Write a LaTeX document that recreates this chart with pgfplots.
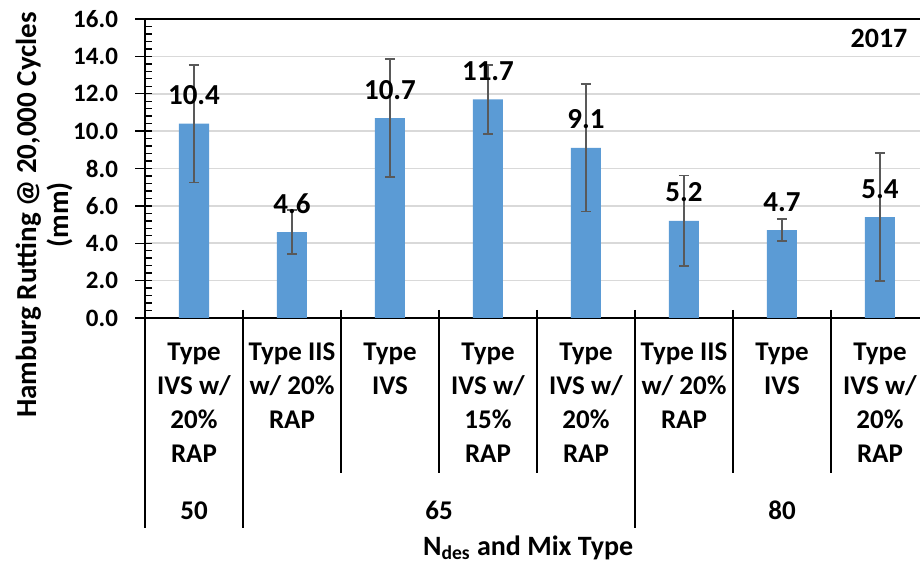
\documentclass[border=0pt]{standalone}
\usepackage{fontspec}
\setmainfont{Carlito}
\usepackage{pgfplots}
\pgfplotsset{compat=1.18}
\definecolor{barblue}{HTML}{5B9BD5}
\definecolor{errgray}{HTML}{595959}
\definecolor{gridgray}{HTML}{D9D9D9}
\begin{document}
\begin{tikzpicture}
\path[use as bounding box] (0,0) rectangle (460pt,283pt);
\begin{axis}[
  at={(72.5pt,124pt)}, anchor=south west,
  scale only axis, width=392pt, height=149.5pt,
  xmin=-0.5, xmax=7.5, ymin=0, ymax=16,
  clip=false,
  ybar, bar width=15pt,
  axis line style={black, line width=0.9pt},
  ytick={0,2,...,16}, minor y tick num=4,
  ytick pos=left,
  tick align=inside,
  major tick length=3.5pt, minor tick length=3.5pt,
  tick style={black, line width=0.7pt},
  extra y ticks={0,2,...,16},
  extra y tick labels={},
  extra y tick style={tick align=outside, major tick length=5pt, ymajorgrids=false},
  ymajorgrids, grid style={gridgray, line width=0.8pt},
  /pgf/number format/assume math mode=true,
  yticklabel style={font=\fontsize{12.5}{14}\selectfont\bfseries, xshift=-10pt, /pgf/number format/.cd, fixed, fixed zerofill, precision=1},
  xtick={0,...,7},
  x tick style={draw=none},
  xticklabels={{Type\\IVS w/\\20\%\\RAP},{Type IIS\\w/ 20\%\\RAP},{Type\\IVS},{Type\\IVS w/\\15\%\\RAP},{Type\\IVS w/\\20\%\\RAP},{Type IIS\\w/ 20\%\\RAP},{Type\\IVS},{Type\\IVS w/\\20\%\\RAP}},
  xticklabel style={align=center, font=\fontsize{13.5}{17}\selectfont\bfseries, anchor=north, yshift=-9pt},
  nodes near coords,
  nodes near coords style={font=\fontsize{14.5}{16}\selectfont\bfseries, black, anchor=base, yshift=9.5pt, /pgf/number format/.cd, fixed, fixed zerofill, precision=1},
]
\addplot[fill=barblue, draw=none,
  error bars/.cd, y dir=both, y explicit,
  error bar style={errgray, line width=0.9pt},
  error mark options={errgray, rotate=90, mark size=2.5pt, line width=0.9pt}]
  table[x=x, y=y, y error=e] {
x y e
0 10.4 3.15
1 4.6 1.18
2 10.7 3.15
3 11.7 1.85
4 9.1 3.40
5 5.2 2.43
6 4.7 0.60
7 5.4 3.43
};
% top frame
\draw[black, line width=0.9pt] (rel axis cs:0,1) -- (rel axis cs:1,1);
% category separators
\draw[black, line width=0.9pt] (axis cs:-0.5,0) -- ++(0pt,-105pt);
\draw[black, line width=0.9pt] ([yshift=4pt]axis cs:0.5,0) -- ++(0pt,-109pt);
\draw[black, line width=0.9pt] ([yshift=4pt]axis cs:4.5,0) -- ++(0pt,-109pt);
\draw[black, line width=0.9pt] ([yshift=4pt]axis cs:7.5,0) -- ++(0pt,-109pt);
\draw[black, line width=0.9pt] ([yshift=4pt]axis cs:1.5,0) -- ++(0pt,-81.5pt);
\draw[black, line width=0.9pt] ([yshift=4pt]axis cs:2.5,0) -- ++(0pt,-81.5pt);
\draw[black, line width=0.9pt] ([yshift=4pt]axis cs:3.5,0) -- ++(0pt,-81.5pt);
\draw[black, line width=0.9pt] ([yshift=4pt]axis cs:5.5,0) -- ++(0pt,-81.5pt);
\draw[black, line width=0.9pt] ([yshift=4pt]axis cs:6.5,0) -- ++(0pt,-81.5pt);
% second level labels
\node[font=\fontsize{13.5}{15}\selectfont\bfseries, anchor=base] at ([yshift=-101pt]axis cs:0,0) {50};
\node[font=\fontsize{13.5}{15}\selectfont\bfseries, anchor=base] at ([yshift=-101pt]axis cs:2.5,0) {65};
\node[font=\fontsize{13.5}{15}\selectfont\bfseries, anchor=base] at ([yshift=-101pt]axis cs:6,0) {80};
% axis titles
\node[font=\fontsize{14}{16}\selectfont\bfseries] at ([yshift=-115pt]axis cs:3.41,0) {N\textsubscript{des} and Mix Type};
\node[rotate=90, align=center, font=\fontsize{14.5}{16}\selectfont\bfseries] at ([xshift=-50.5pt]rel axis cs:0,0.345) {Hamburg Rutting @ 20,000 Cycles\\(mm)};
\node[font=\fontsize{14}{16}\selectfont\bfseries] at (axis cs:6.99,14.98) {2017};
\end{axis}
\end{tikzpicture}
\end{document}
